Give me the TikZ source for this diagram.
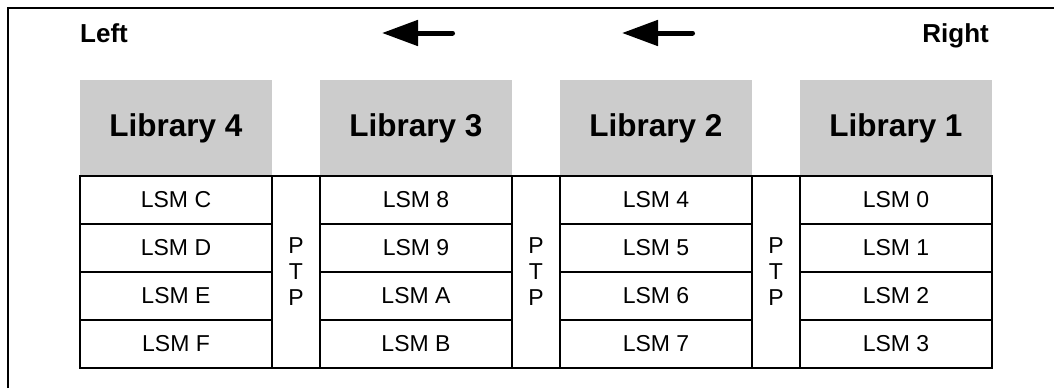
\documentclass[tikz,border=0pt]{standalone}
\usepackage{fontspec}
\setmainfont{Liberation Sans}
\usetikzlibrary{arrows.meta}
\definecolor{libgray}{HTML}{CCCCCC}
\begin{document}
\begin{tikzpicture}[x=1pt,y=-1pt,
  lib/.style={fill=libgray, minimum width=192pt, minimum height=96pt, inner sep=0pt, font=\bfseries\fontsize{31.5}{36}\selectfont},
  cell/.style={draw, line width=1.5pt, minimum width=192pt, minimum height=48pt, inner sep=0pt, font=\fontsize{23}{26}\selectfont},
  ptp/.style={draw, line width=1.5pt, minimum width=48pt, minimum height=192pt, inner sep=0pt, align=center, font=\fontsize{23}{26}\selectfont},
  side/.style={font=\bfseries\fontsize{26}{30}\selectfont, inner sep=0pt},
  dir/.style={line width=5pt, line cap=round, -{Triangle[length=36pt,width=25pt]}},
  frame/.style={line width=2pt}]
\useasboundingbox (0,0) rectangle (1054,388);
\draw[frame] (8,388) -- (8,8) -- (1054,8);

\node[side, anchor=base west] (left) at (80,42.5) {Left};
\node[side, anchor=base east] (right) at (989,42.5) {Right};

\coordinate (a1s) at (452.5,33);
\coordinate (a1e) at (382,33);
\coordinate (a2s) at (692.5,33);
\coordinate (a2e) at (622,33);
\draw[dir] (a1s) -- (a1e);
\draw[dir] (a2s) -- (a2e);

\node[lib] (lib4) at (176,128) {Library 4};
\node[lib] (lib3) at (416,128) {Library 3};
\node[lib] (lib2) at (656,128) {Library 2};
\node[lib] (lib1) at (896,128) {Library 1};

\node[cell] (c4a) at (176,200) {LSM C};
\node[cell] (c4b) at (176,248) {LSM D};
\node[cell] (c4c) at (176,296) {LSM E};
\node[cell] (c4d) at (176,344) {LSM F};

\node[cell] (c3a) at (416,200) {LSM 8};
\node[cell] (c3b) at (416,248) {LSM 9};
\node[cell] (c3c) at (416,296) {LSM A};
\node[cell] (c3d) at (416,344) {LSM B};

\node[cell] (c2a) at (656,200) {LSM 4};
\node[cell] (c2b) at (656,248) {LSM 5};
\node[cell] (c2c) at (656,296) {LSM 6};
\node[cell] (c2d) at (656,344) {LSM 7};

\node[cell] (c1a) at (896,200) {LSM 0};
\node[cell] (c1b) at (896,248) {LSM 1};
\node[cell] (c1c) at (896,296) {LSM 2};
\node[cell] (c1d) at (896,344) {LSM 3};

\node[ptp] (ptp3) at (296,272) {P\\T\\P};
\node[ptp] (ptp2) at (536,272) {P\\T\\P};
\node[ptp] (ptp1) at (776,272) {P\\T\\P};
\end{tikzpicture}
\end{document}
